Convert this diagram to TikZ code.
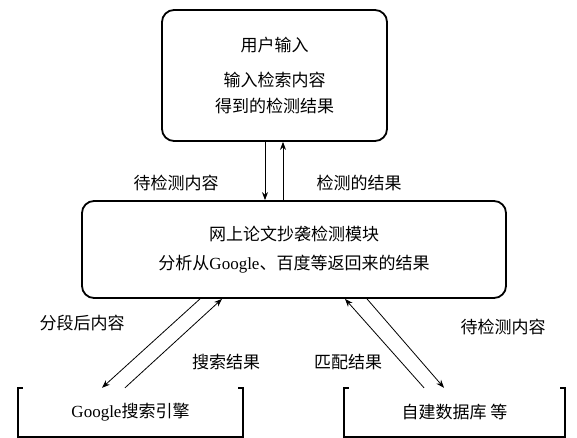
\documentclass[tikz,border=0pt]{standalone}
\usepackage{fontspec}
\usepackage{tikz}
\usetikzlibrary{arrows.meta,positioning}
\newfontfamily\cjk{Noto Sans CJK SC}
\newfontfamily\lat{Liberation Serif}

\begin{document}
\begin{tikzpicture}[
  x=1pt, y=-1pt,
  font=\cjk\fontsize{17}{26}\selectfont,
  stagebox/.style={draw=black, line width=1.8pt, rounded corners=12pt,
                   align=center, inner sep=4pt},
  basebox/.style={align=center, inner sep=4pt, minimum height=49pt},
  flowline/.style={line width=0.8pt, -{Stealth[length=8pt, width=6pt]}},
  tag/.style={inner sep=1pt}
]
  \useasboundingbox (0,0) rectangle (577,438);
  \node[stagebox, minimum width=225pt, minimum height=131pt] (user) at (274.5,75.5)
    {用户输入\\[9pt]输入检索内容\\得到的检测结果};
  \node[stagebox, minimum width=424pt, minimum height=97pt] (check) at (294,249.5)
    {网上论文抄袭检测模块\\[3pt]分析从{\lat Google}、百度等返回来的结果};
  \node[basebox, minimum width=225pt] (google) at (130.5,412.5) {{\lat Google}搜索引擎};
  \node[basebox, minimum width=221pt] (local) at (454.5,412.5) {自建数据库\ 等};

  % open boxes at the bottom
  \draw[line width=1.6pt] ([xshift=5pt]google.north west) -- (google.north west)
    -- (google.south west) -- (google.south east) -- (google.north east) -- ++(-5pt,0);
  \draw[line width=1.6pt] ([xshift=5pt]local.north west) -- (local.north west)
    -- (local.south west) -- (local.south east) -- (local.north east) -- ++(-5pt,0);

  % connectors
  \draw[flowline] ([xshift=-9.5pt]user.south) -- ([xshift=-29pt]check.north);
  \draw[flowline] ([xshift=-11pt]check.north) -- ([xshift=8.5pt]user.south);
  \draw[flowline] ([xshift=-94pt]check.south) -- ([xshift=-28.5pt]google.north);
  \draw[flowline] ([xshift=-5.5pt]google.north) -- ([xshift=-72pt]check.south);
  \draw[flowline] ([xshift=-30.5pt]local.north) -- ([xshift=51pt]check.south);
  \draw[flowline] ([xshift=73pt]check.south) -- ([xshift=-10.5pt]local.north);

  \node[tag] (l1) at (176,183) {待检测内容};
  \node[tag] (l2) at (359,183) {检测的结果};
  \node[tag] (l3) at (82,323) {分段后内容};
  \node[tag] (l4) at (226,362) {搜索结果};
  \node[tag] (l5) at (348,362) {匹配结果};
  \node[tag] (l6) at (503,327) {待检测内容};
\end{tikzpicture}
\end{document}
